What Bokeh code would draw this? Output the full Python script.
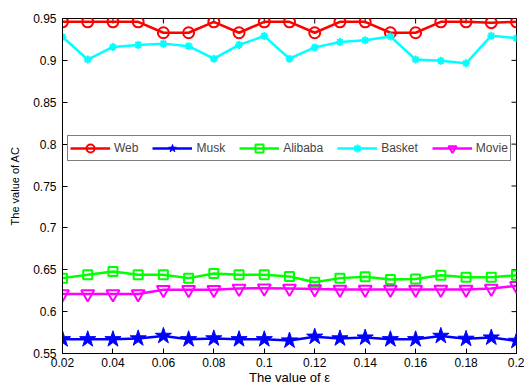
import math
from bokeh.plotting import figure
from bokeh.models import FixedTicker, Legend, LegendItem, Range1d
from bokeh.embed import file_html
from bokeh.resources import INLINE

eps = [0.02, 0.03, 0.04, 0.05, 0.06, 0.07, 0.08, 0.09, 0.10, 0.11,
       0.12, 0.13, 0.14, 0.15, 0.16, 0.17, 0.18, 0.19, 0.20]
web = [0.946, 0.946, 0.946, 0.946, 0.933, 0.933, 0.946, 0.933, 0.946, 0.946,
       0.933, 0.946, 0.946, 0.933, 0.933, 0.946, 0.946, 0.945, 0.946]
musk = [0.567, 0.567, 0.567, 0.568, 0.571, 0.567, 0.568, 0.567, 0.567, 0.5655,
        0.570, 0.568, 0.569, 0.567, 0.567, 0.571, 0.5675, 0.569, 0.565]
alibaba = [0.640, 0.644, 0.648, 0.644, 0.644, 0.640, 0.6455, 0.644, 0.644, 0.642,
           0.635, 0.640, 0.6415, 0.6385, 0.639, 0.6435, 0.641, 0.641, 0.6435]
basket = [0.928, 0.901, 0.916, 0.9185, 0.920, 0.917, 0.902, 0.9185, 0.929, 0.902,
          0.9155, 0.922, 0.924, 0.9285, 0.901, 0.8995, 0.8965, 0.9295, 0.9265]
movie = [0.621, 0.621, 0.621, 0.621, 0.626, 0.626, 0.626, 0.6275, 0.628, 0.6275,
         0.627, 0.6265, 0.6265, 0.6265, 0.6265, 0.6265, 0.6265, 0.6275, 0.631]

series_names = ["Web", "Musk", "Alibaba", "Basket", "Movie"]
series_colors = ["#ff0000", "#0000ff", "#00ff00", "#00ffff", "#ff00ff"]

x_ticks = [0.02, 0.04, 0.06, 0.08, 0.1, 0.12, 0.14, 0.16, 0.18, 0.2]
x_tick_labels = ["0.02", "0.04", "0.06", "0.08", "0.1", "0.12", "0.14", "0.16", "0.18", "0.2"]
y_ticks = [0.55, 0.6, 0.65, 0.7, 0.75, 0.8, 0.85, 0.9, 0.95]
y_tick_labels = ["0.55", "0.6", "0.65", "0.7", "0.75", "0.8", "0.85", "0.9", "0.95"]

FONT = "Liberation Sans"
X_MIN, X_MAX = 0.02, 0.2
Y_MIN, Y_MAX = 0.55, 0.95

p = figure(width=524, height=387, output_backend="svg", toolbar_location=None,
           x_range=Range1d(X_MIN, X_MAX), y_range=Range1d(Y_MIN, Y_MAX),
           min_border_left=62, min_border_right=8, min_border_top=18, min_border_bottom=34)
p.grid.visible = False
p.outline_line_color = "black"
p.outline_line_width = 1
p.background_fill_color = "white"
p.border_fill_color = "white"

def style_axis(ax, ticks, labels):
    ax.ticker = FixedTicker(ticks=ticks)
    ax.major_label_overrides = {t: l for t, l in zip(ticks, labels)}
    ax.major_tick_in = 5
    ax.major_tick_out = 0
    ax.minor_tick_line_color = None
    ax.axis_line_color = "black"
    ax.major_tick_line_color = "black"
    ax.major_label_text_font = FONT
    ax.major_label_text_font_size = "12px"
    ax.major_label_text_color = "black"
    ax.axis_label_text_font = FONT
    ax.axis_label_text_font_style = "normal"
    ax.axis_label_text_color = "black"

style_axis(p.xaxis[0], x_ticks, x_tick_labels)
style_axis(p.yaxis[0], y_ticks, y_tick_labels)
p.xaxis[0].axis_label = "The value of \u03b5"
p.yaxis[0].axis_label = "The value of AC"
p.xaxis[0].axis_label_text_font_size = "13px"
p.yaxis[0].axis_label_text_font_size = "11px"
p.xaxis[0].major_label_standoff = 4
p.xaxis[0].axis_label_standoff = 0
p.yaxis[0].major_label_standoff = 6
p.yaxis[0].axis_label_standoff = 9

# mirrored inward ticks on the top and right edges (half of each dash is clipped by the frame)
p.scatter(x_ticks, [Y_MAX] * len(x_ticks), marker="dash", size=10, angle=math.pi / 2,
          line_color="black", line_width=1)
p.scatter([X_MAX] * len(y_ticks), y_ticks, marker="dash", size=10,
          line_color="black", line_width=1)

lw = 2.5
items = []
data = [web, musk, alibaba, basket, movie]
for name, color, ys in zip(series_names, series_colors, data):
    r_line = p.line(eps, ys, line_color=color, line_width=lw)
    if name == "Web":
        r_m = p.scatter(eps, ys, marker="circle", size=11, line_color=color, line_width=2, fill_alpha=0)
    elif name == "Musk":
        r_m = p.scatter(eps, ys, marker="star", size=17, line_color=color, line_width=1, fill_color=color)
    elif name == "Alibaba":
        r_m = p.scatter(eps, ys, marker="square", size=9, line_color=color, line_width=2, fill_alpha=0)
    elif name == "Basket":
        r_m = p.scatter(eps, ys, marker="asterisk", size=8, line_color=color, line_width=2)
    else:
        r_m = p.scatter(eps, ys, marker="inverted_triangle", size=13, line_color=color, line_width=2, fill_alpha=0)
    items.append(LegendItem(label=name, renderers=[r_line, r_m]))

legend = Legend(items=items, orientation="horizontal", location=(5, 192),
                border_line_color="black", border_line_width=1,
                background_fill_color="white", background_fill_alpha=1,
                label_text_font=FONT, label_text_font_size="12px",
                glyph_width=40, glyph_height=20, label_standoff=4,
                spacing=14, padding=2, margin=0, label_height=12)
p.add_layout(legend, "center")

open("out.html", "w").write(file_html(p, INLINE))
